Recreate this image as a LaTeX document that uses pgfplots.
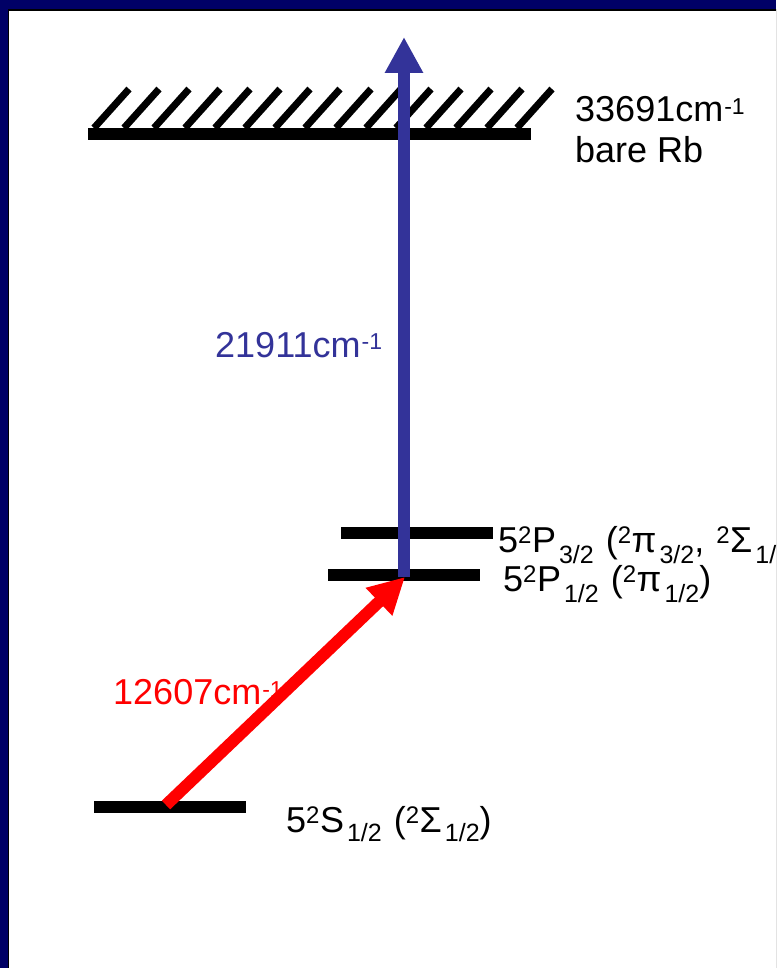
\documentclass[border=0pt]{standalone}
\usepackage{pgfplots}
\pgfplotsset{compat=1.18}
\usepackage{fontspec}
\setmainfont{Liberation Sans}
\usetikzlibrary{arrows.meta}
\definecolor{navyframe}{RGB}{0,0,102}
\definecolor{arrowblue}{RGB}{51,51,153}
\newcommand\supE[1]{\hspace{1pt}\raisebox{7pt}{\fontsize{23}{23}\selectfont #1}}
\newcommand\supS[1]{\raisebox{9pt}{\fontsize{24}{24}\selectfont #1}\hspace{0.5pt}}
\newcommand\subS[2]{\hspace{3pt}\raisebox{-#1}{\fontsize{25}{25}\selectfont #2}}
\newcommand\wsp{\hspace{12pt}}
\begin{document}
\begin{tikzpicture}
\path[use as bounding box] (0,0) rectangle (776pt,968pt);
\clip (0,0) rectangle (776pt,968pt);
\fill[navyframe] (0,0) rectangle (776pt,968pt);
\fill[black] (7.5pt,-5pt) rectangle (790pt,958.5pt);
\fill[white] (9pt,-5pt) rectangle (790pt,957pt);
\begin{axis}[width=776pt,height=968pt,scale only axis,
  xmin=0,xmax=776,ymin=0,ymax=968,y dir=reverse,
  hide axis,clip=false]
% energy levels
\addplot[black,line width=12pt,line cap=butt] table {
x y
88 134
531 134

341 533
493 533

328 574.5
480 574.5

94 807
246 807
};
% hatching of the continuum
\addplot[black,line width=7pt,line cap=butt] table {
x y
94 128
129 89

124 128
159 89

154 128
189 89

185 128
220 89

215 128
250 89

245 128
280 89

275 128
310 89

305 128
340 89

336 128
371 89

366 128
401 89

396 128
431 89

426 128
461 89

456 128
491 89

487 128
522 89

517 128
552 89
};
% labels
\node[anchor=base west,inner sep=0pt,font=\fontsize{36}{43}\selectfont] at (axis cs:575,122) {33691cm\supE{-1}};
\node[anchor=base west,inner sep=0pt,font=\fontsize{36}{43}\selectfont] at (axis cs:575,163) {bare Rb};
\node[anchor=base west,inner sep=0pt,text=arrowblue,font=\fontsize{36}{43}\selectfont] at (axis cs:215,357) {21911cm\supE{-1}};
\node[anchor=base west,inner sep=0pt,text=red,font=\fontsize{36}{43}\selectfont] at (axis cs:113,704) {12607cm\supE{-1}};
\node[anchor=base west,inner sep=0pt,font=\fontsize{36}{43}\selectfont] at (axis cs:498,552) {5\supS{2}P\subS{11pt}{3/2}\wsp(\supS{2}π\subS{11pt}{3/2},\wsp\supS{2}Σ\subS{11pt}{1/2})};
\node[anchor=base west,inner sep=0pt,font=\fontsize{36}{43}\selectfont] at (axis cs:503,591) {5\supS{2}P\subS{11pt}{1/2}\wsp(\supS{2}π\subS{11pt}{1/2})};
\node[anchor=base west,inner sep=0pt,font=\fontsize{36}{43}\selectfont] at (axis cs:286,832) {5\supS{2}S\subS{9pt}{1/2}\wsp(\supS{2}Σ\subS{9pt}{1/2})};
% transitions
\addplot[arrowblue,line width=12pt,line cap=butt,-{Triangle[length=36pt,width=36pt]}] coordinates {(404,577) (404,37)};
\addplot[red,line width=12pt,line cap=butt,-{Triangle[length=36pt,width=36pt]}] coordinates {(166,805) (405,577)};
\end{axis}
\end{tikzpicture}
\end{document}
